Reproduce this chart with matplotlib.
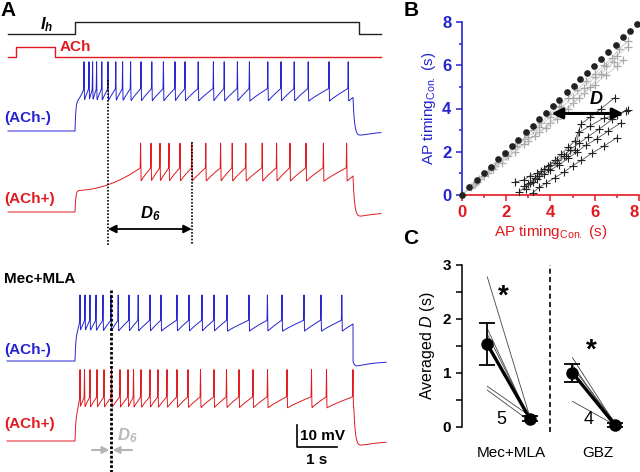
import numpy as np
import matplotlib
matplotlib.use('Agg')
import matplotlib.pyplot as plt

plt.rcParams['font.family'] = ['Liberation Sans', 'DejaVu Sans']
plt.rcParams['mathtext.fontset'] = 'custom'
plt.rcParams['mathtext.rm'] = 'Liberation Sans'
plt.rcParams['mathtext.it'] = 'Liberation Sans:italic'
plt.rcParams['mathtext.bf'] = 'Liberation Sans:bold'
plt.rcParams['mathtext.bfit'] = 'Liberation Sans:italic:bold'

BLUE = '#2424d0'
RED = '#e01a1e'

# ---------------- Panel A : spike times (s, from current step onset) ----------------
spk_achm = [0.225, 0.35, 0.44, 0.54, 0.67, 0.825, 1.02, 1.19, 1.39, 1.65, 1.92, 2.21,
            2.5, 2.75, 3.08, 3.46, 3.73, 4.06, 4.36, 4.82, 5.15, 5.48, 5.83, 6.35, 6.83]
spk_achp = [1.64, 1.9, 2.125, 2.35, 2.625, 2.92, 3.27, 3.64, 3.93, 4.27, 4.68, 5.04,
            5.375, 5.775, 6.21, 6.79]
spk_mec_achm = [0.125, 0.25, 0.375, 0.525, 0.7, 0.9, 1.08, 1.35, 1.58, 1.875, 2.15,
                2.55, 2.85, 3.175, 3.475, 3.8, 4.35, 4.81, 5.175, 5.725, 6.15, 6.67]
spk_mec_achp = [0.125, 0.2375, 0.375, 0.55, 0.725, 0.9125, 1.125, 1.325, 1.4625, 1.65,
                1.875, 2.075, 2.3, 2.55, 2.825, 3.1375, 3.475, 3.7875, 4.1, 4.45,
                4.8125, 5.3, 5.9125, 6.2875, 6.95]
ih_on, ih_off = 0.0, 7.1
ach_on, ach_off = -1.475, -0.5

# ---------------- Panel B ----------------
ctrl_t = [0, 0.35, 0.7, 1.0, 1.3, 1.65, 1.95, 2.25, 2.55, 2.9, 3.2, 3.5, 3.8, 4.1, 4.4,
          4.75, 5.05, 5.35, 5.65, 5.95, 6.3, 6.6, 6.95, 7.3, 7.6, 7.9]
mec_x = [[0, 0.4, 0.8, 1.2, 1.6, 2.0, 2.4, 2.8, 3.2, 3.6, 4.0, 4.4, 4.8, 5.2, 5.6, 6.0, 6.4, 6.8, 7.1, 7.5],
         [0, 0.5, 1.0, 1.5, 2.0, 2.5, 3.0, 3.5, 4.0, 4.5, 5.0, 5.5, 6.0, 6.5, 7.0, 7.5],
         [0, 0.6, 1.2, 1.8, 2.4, 3.0, 3.5, 4.0, 4.5, 5.0, 5.5, 6.0, 6.5, 7.0, 7.3],
         [0, 0.7, 1.4, 2.1, 2.8, 3.3, 3.8, 4.3, 4.8, 5.3, 5.8, 6.3, 6.85]]
mec_y = [[0, 0.35, 0.75, 1.1, 1.5, 1.85, 2.25, 2.6, 3.0, 3.35, 3.75, 4.1, 4.5, 4.85, 5.25, 5.6, 6.0, 6.35, 6.75, 7.1],
         [0, 0.45, 0.9, 1.35, 1.8, 2.25, 2.7, 3.15, 3.6, 4.05, 4.5, 4.95, 5.45, 5.95, 6.45, 6.85],
         [0, 0.5, 1.0, 1.5, 2.0, 2.5, 2.9, 3.35, 3.8, 4.25, 4.7, 5.1, 5.55, 5.95, 6.25],
         [0, 0.6, 1.2, 1.8, 2.35, 2.75, 3.1, 3.5, 4.0, 4.5, 5.0, 5.6, 6.15]]
ach_x = [[2.6, 3.0, 3.3, 3.6, 3.9, 4.2, 4.5, 4.8, 5.1, 5.4, 5.8, 6.3, 6.9],
         [2.4, 2.8, 3.1, 3.4, 3.7, 4.0, 4.3, 4.6, 4.9, 5.3, 5.7, 6.2, 6.8, 7.4],
         [2.8, 3.1, 3.4, 3.7, 4.0, 4.4, 4.8, 5.2, 5.6, 6.1, 6.6, 7.2],
         [3.2, 3.5, 3.8, 4.2, 4.6, 5.0, 5.4, 5.9, 6.4, 7.0],
         [2.9, 3.2, 3.5, 3.9, 4.3, 4.7, 5.1, 5.3, 5.8, 6.4, 7.0, 7.5]]
ach_y = [[0.15, 0.5, 0.8, 1.1, 1.35, 1.6, 1.9, 2.2, 2.5, 3.3, 3.6, 4.0, 4.5],
         [0.6, 0.7, 0.9, 1.0, 1.2, 1.4, 1.6, 1.8, 2.1, 2.4, 2.7, 3.05, 3.5, 3.9],
         [0.4, 0.55, 0.75, 0.95, 1.15, 1.4, 1.7, 2.0, 2.3, 2.6, 2.95, 3.35],
         [0.1, 0.35, 0.55, 0.8, 1.05, 1.35, 1.6, 1.95, 2.25, 2.65],
         [0.3, 0.6, 0.9, 1.2, 1.5, 1.8, 2.1, 2.9, 3.2, 3.55, 3.7, 3.95]]

# ---------------- Panel C ----------------
groups = ['Mec+MLA', 'GBZ']
n_cells = ['5', '4']
mec_pre = [2.78, 1.82, 1.72, 0.75, 0.68]
mec_post = [0.18, 0.12, 0.15, 0.2, 0.1]
gbz_pre = [1.28, 1.15, 1.1, 0.47]
gbz_post = [0.05, 0.02, 0.08, 0.03]
mean_pre = [1.53, 1.0]
mean_post = [0.15, 0.03]
sem_pre = [0.39, 0.17]
sem_post = [0.04, 0.03]

fig = plt.figure(figsize=(6.4, 4.72), dpi=100)

# pixel helpers for layout of panel A
PX_S, T0_PX, PX_MV = 40.0, 75.0, 2.15


def P(px, py):
    return ((px - T0_PX) / PX_S, -py / PX_MV)


def vm(t, spikes, trough, thresh, peak, pre, t_off, under=3.0, w=0.006):
    v = np.zeros_like(t)
    s0 = spikes[0]
    seg = (t >= 0) & (t < s0)
    v[seg] = pre + (thresh - pre) * (t[seg] / s0) ** 2
    edges = list(spikes) + [t_off]
    for i in range(len(spikes)):
        a, b = edges[i], edges[i + 1]
        seg = (t >= a) & (t < b)
        span = b - a if i < len(spikes) - 1 else 0.45
        frac = np.clip((t[seg] - a) / span, 0, 1)
        v[seg] = trough + (thresh - trough) * frac ** 0.85
    on = t >= 0
    v[on] *= 1 - np.exp(-t[on] / 0.02)
    spk = np.zeros_like(t)
    for s in spikes:
        spk = np.maximum(spk, np.exp(-((t - s) / w) ** 2))
    v = v * (1 - spk) + peak * spk
    v_end = np.interp(t_off, t, v)
    off = t >= t_off
    dt = t[off] - t_off
    v[off] = v_end * np.exp(-dt / 0.04) - under * (1 - np.exp(-dt / 0.04)) * np.exp(-dt / 0.5)
    return v


ax_a = fig.add_axes([0, 0, 400 / 640, 1])
ax_a.set_xlim(P(0, 0)[0], P(400, 0)[0])
ax_a.set_ylim(-472 / PX_MV, 0)
ax_a.axis('off')

t_top = np.union1d(np.arange(P(8, 0)[0], P(381, 0)[0], 0.001), spk_achm + spk_achp)
t_bot = np.union1d(np.arange(P(7, 0)[0], P(386, 0)[0], 0.001), spk_mec_achm + spk_mec_achp)

ax_a.plot(t_top, P(0, 131)[1] + vm(t_top, spk_achm, 13.6, 19.8, 32.2, 14, 6.95), color=BLUE, lw=0.7)
ax_a.plot(t_top, P(0, 212)[1] + vm(t_top, spk_achp, 14, 20.6, 32, 10, 6.95), color=RED, lw=0.7)
ax_a.plot(t_bot, P(0, 361)[1] + vm(t_bot, spk_mec_achm, 13.6, 19, 30.7, 13, 6.95), color=BLUE, lw=0.7)
ax_a.plot(t_bot, P(0, 441)[1] + vm(t_bot, spk_mec_achp, 15.2, 20.6, 33.2, 13, 6.97), color=RED, lw=0.7)

# command traces
t0, t1 = P(8, 0)[0], P(381, 0)[0]
lo, hi = P(0, 34)[1], P(0, 22)[1]
ax_a.plot([t0, ih_on, ih_on, ih_off, ih_off, t1], [lo, lo, hi, hi, lo, lo], color='#222222', lw=1.0)
lo, hi = P(0, 57)[1], P(0, 47)[1]
ax_a.plot([t0, ach_on, ach_on, ach_off, ach_off, t1], [lo, lo, hi, hi, lo, lo], color=RED, lw=1.0)

# dotted markers of 6th spike
x1, x2 = spk_achm[5], spk_achp[5]
ax_a.plot([x1, x1], [P(0, 80)[1], P(0, 245)[1]], color='k', lw=1.2, ls=(0, (1, 1)))
ax_a.plot([x2, x2], [P(0, 142)[1], P(0, 245)[1]], color='k', lw=1.2, ls=(0, (1, 1)))
ya = P(0, 229)[1]
ax_a.annotate('', xy=(x2, ya), xytext=(x1, ya),
              arrowprops=dict(arrowstyle='<|-|>', color='k', lw=1.3, mutation_scale=12,
                              shrinkA=0, shrinkB=0))
ax_a.text(*P(150, 214), r'$\mathbfit{D}_{\mathbfit{6}}$', fontsize=12, ha='center', va='center')

x3 = spk_mec_achm[5]
ax_a.plot([x3, x3], [P(0, 290)[1], P(0, 472)[1]], color='k', lw=2.0, ls=(0, (1, 0.7)))
yb = P(0, 450)[1]
ax_a.annotate('', xy=(x3 - 0.04, yb), xytext=(P(92, 0)[0], yb),
              arrowprops=dict(arrowstyle='-|>', color='#b4b4b4', lw=1.5, mutation_scale=10,
                              shrinkA=0, shrinkB=0))
ax_a.annotate('', xy=(x3 + 0.04, yb), xytext=(P(132, 0)[0], yb),
              arrowprops=dict(arrowstyle='-|>', color='#b4b4b4', lw=1.5, mutation_scale=10,
                              shrinkA=0, shrinkB=0))
ax_a.text(*P(127, 436), r'$\mathbfit{D}_{\mathbfit{6}}$', fontsize=12, color='#b8b8b8',
          ha='center', va='center')

# scale bar
sx, sy = P(296.7, 446.7)
ax_a.plot([sx, sx, sx + 1], [sy + 10, sy, sy], color='k', lw=1.2)
ax_a.text(*P(300, 436), '10 mV', fontsize=11, fontweight='bold', ha='left', va='center')
ax_a.text(*P(317, 460), '1 s', fontsize=11, fontweight='bold', ha='center', va='center')

# labels
ax_a.text(*P(47, 25), r'$\mathbfit{I}_{\mathbfit{h}}$', fontsize=12, ha='center', va='center')
ax_a.text(*P(60, 47), 'ACh', fontsize=11, fontweight='bold', color=RED, ha='left', va='center')
ax_a.text(*P(4, 118), '(ACh-)', fontsize=11, fontweight='bold', color=BLUE, ha='left', va='center')
ax_a.text(*P(4, 199), '(ACh+)', fontsize=11, fontweight='bold', color=RED, ha='left', va='center')
ax_a.text(*P(4, 279), 'Mec+MLA', fontsize=11, fontweight='bold', color='k', ha='left', va='center')
ax_a.text(*P(4, 350), '(ACh-)', fontsize=11, fontweight='bold', color=BLUE, ha='left', va='center')
ax_a.text(*P(4, 424), '(ACh+)', fontsize=11, fontweight='bold', color=RED, ha='left', va='center')

fig.text(8 / 640, 1 - 11 / 472, 'A', fontsize=15, fontweight='bold', ha='center', va='center')
fig.text(411 / 640, 1 - 11 / 472, 'B', fontsize=15, fontweight='bold', ha='center', va='center')
fig.text(411 / 640, 1 - 238 / 472, 'C', fontsize=15, fontweight='bold', ha='center', va='center')

# ---------------- Panel B ----------------
ax_b = fig.add_axes([461.7 / 640, 1 - 195 / 472, 177.3 / 640, 173 / 472])
for xs, ys in zip(mec_x, mec_y):
    ax_b.plot(xs, ys, color='#cccccc', lw=0.7, marker='+', ms=6, mec='#a8a8a8', mew=0.9, zorder=2)
for xs, ys in zip(ach_x, ach_y):
    ax_b.plot(xs, ys, color='#555555', lw=0.6, marker='+', ms=6, mec='#222222', mew=0.8, zorder=3)
ax_b.plot(ctrl_t, ctrl_t, 'o', color='#222222', ms=3.8, zorder=4, clip_on=False)
ax_b.set_xlim(0, 8)
ax_b.set_ylim(0, 8)
ax_b.spines['top'].set_visible(False)
ax_b.spines['right'].set_visible(False)
ax_b.spines['left'].set_color(BLUE)
ax_b.spines['bottom'].set_color(RED)
ax_b.spines['left'].set_linewidth(1.2)
ax_b.spines['bottom'].set_linewidth(1.2)
ax_b.set_xticks([0, 2, 4, 6, 8])
ax_b.set_yticks([0, 2, 4, 6, 8])
ax_b.set_xticks(range(9), minor=True)
ax_b.set_yticks(range(9), minor=True)
ax_b.tick_params(axis='x', which='both', colors=RED, labelsize=12, width=1.1)
ax_b.tick_params(axis='y', which='both', colors=BLUE, labelsize=12, width=1.1)
ax_b.tick_params(which='major', length=4)
ax_b.tick_params(which='minor', length=2.5)
plt.setp(ax_b.get_xticklabels() + ax_b.get_yticklabels(), fontweight='bold')
ax_b.get_xticklabels()[-1].set_ha('right')
ax_b.set_xlabel(r'AP timing$_{\mathrm{Con.}}$ (s)', color=RED, fontsize=11, labelpad=2)
ax_b.set_ylabel(r'AP timing$_{\mathrm{Con.}}$ (s)', color=BLUE, fontsize=11, labelpad=3)
ax_b.annotate('', xy=(7.3, 3.77), xytext=(4.05, 3.77),
              arrowprops=dict(arrowstyle='<|-|>', color='k', lw=2.2, mutation_scale=16,
                              shrinkA=0, shrinkB=0), zorder=5)
ax_b.text(6.05, 4.4, r'$\mathbfit{D}$', fontsize=13, ha='center', va='center', zorder=5)

# ---------------- Panel C ----------------
ax_c = fig.add_axes([461.7 / 640, 1 - 426.7 / 472, 178.3 / 640, 161.7 / 472])
for pre, post in zip(mec_pre, mec_post):
    ax_c.plot([0, 1], [pre, post], color='#444444', lw=0.6, zorder=2)
for pre, post in zip(gbz_pre, gbz_post):
    ax_c.plot([2, 3], [pre, post], color='#444444', lw=0.6, zorder=2)
for g in range(len(groups)):
    xs = [2 * g, 2 * g + 1]
    ax_c.plot(xs, [mean_pre[g], mean_post[g]], color='k', lw=2.4, zorder=3)
    ax_c.errorbar(xs, [mean_pre[g], mean_post[g]], yerr=[sem_pre[g], sem_post[g]],
                  fmt='o', color='k', ms=8, lw=1.3, capsize=6, capthick=1.3,
                  zorder=4, clip_on=False)
ax_c.plot([1.47, 1.47], [-0.1, 3.0], color='k', lw=1.2, ls=(0, (3, 2)), clip_on=False)
ax_c.text(0.37, 2.41, '*', fontsize=20, fontweight='bold', ha='center', va='center')
ax_c.text(2.45, 1.42, '*', fontsize=20, fontweight='bold', ha='center', va='center')
ax_c.text(0.34, 0.14, n_cells[0], fontsize=13, ha='center', va='center')
ax_c.text(2.37, 0.14, n_cells[1], fontsize=13, ha='center', va='center')
ax_c.set_xlim(-0.6, 3.585)
ax_c.set_ylim(0, 3)
for s in ['top', 'right', 'bottom']:
    ax_c.spines[s].set_visible(False)
ax_c.spines['left'].set_linewidth(1.1)
ax_c.set_yticks([0, 1, 2, 3])
ax_c.set_yticks([0.5, 1.5, 2.5], minor=True)
ax_c.tick_params(axis='y', which='major', length=4, width=1.1, labelsize=11)
ax_c.tick_params(axis='y', which='minor', length=4, width=1.1)
plt.setp(ax_c.get_yticklabels(), fontweight='bold')
ax_c.set_xticks([0.57, 2.6], groups)
ax_c.tick_params(axis='x', length=0, labelsize=11, pad=14)
ax_c.set_ylabel(r'Averaged $D$ (s)', fontsize=11.5, labelpad=4)

fig.savefig('out.png', dpi=100)
